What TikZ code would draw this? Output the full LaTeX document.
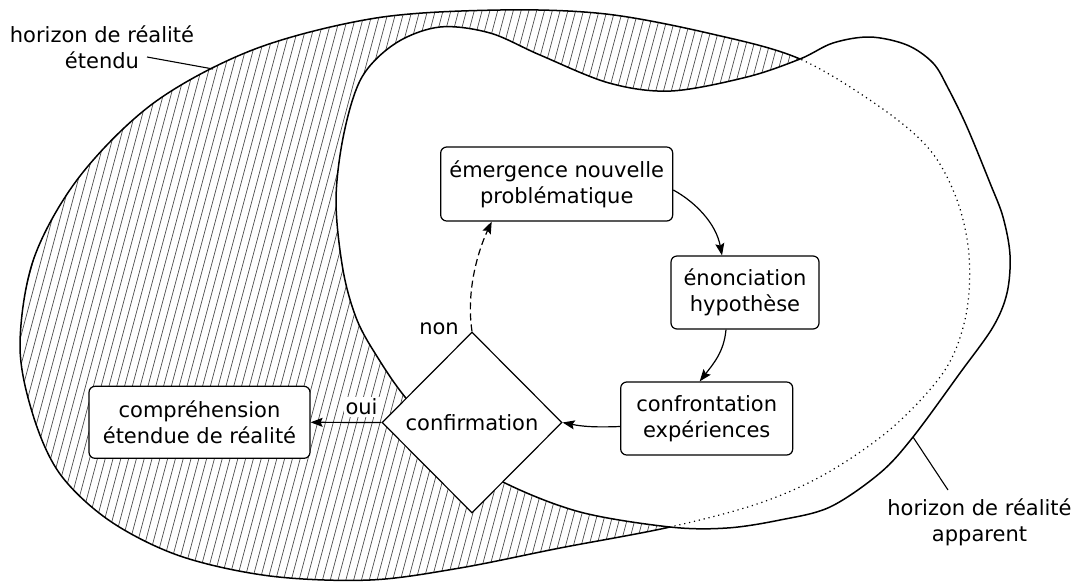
\documentclass[tikz,border=0pt]{standalone}
\usepackage{fontspec}
\setmainfont{DejaVu Sans}
\usetikzlibrary{shapes.geometric,arrows.meta}
\begin{document}
\begin{tikzpicture}[x=1pt,y=-1pt,
  every node/.style={font=\fontsize{21pt}{26pt}\selectfont},
  stepbox/.style={draw, rounded corners=6pt, line width=1.2pt, fill=white, align=center, inner sep=0pt},
  decisionbox/.style={draw, diamond, aspect=1, line width=1.2pt, fill=white, inner sep=0pt, minimum width=180pt, minimum height=181pt},
  conn/.style={line width=1.2pt, -{Stealth[length=12pt,width=9pt,inset=2pt]}},
  blob/.style={line width=1.5pt},
  hatchline/.style={draw=black!75, line width=0.65pt},
  leader/.style={line width=1.1pt}
]
\def\outerpath{plot[smooth cycle, tension=0.55] coordinates {(20,345) (34,258) (80,176) (155,102) (255,49) (376,18) (500,10) (606,14) (712,34) (800,59) (880,107) (930,150) (957,200) (969,255) (966,315) (945,370) (893,427) (827,473) (760,503) (670,527) (560,548) (460,568) (370,580) (270,576) (180,556) (110,521) (60,474) (33,415)}}
\def\innerpath{plot[smooth cycle, tension=0.55] coordinates {(800,59) (833,43) (870,37) (907,45) (933,63) (948,88) (967,127) (990,183) (1003,217) (1010,255) (1007,293) (993,327) (960,373) (913,437) (880,473) (830,507) (780,520) (727,528) (670,527) (580,512) (505,483) (450,448) (405,397) (378,358) (357,320) (343,270) (336,200) (344,133) (362,77) (396,43) (440,27) (490,33) (540,55) (609,83) (671,91) (747,77)}}
\useasboundingbox (0,0) rectangle (1078,582);
\fill[white] (0,0) rectangle (1078,582);
% hatched extended horizon
\begin{scope}
  \clip \outerpath;
  \foreach \i in {-22,...,126} \draw[hatchline] ({\i*7.8},590) -- ++(160,-600);
\end{scope}
\draw[blob] \outerpath;
% apparent horizon
\fill[white] \innerpath;
\begin{scope}
  \clip \innerpath;
  \draw[line width=1.2pt, dash pattern=on 1.2pt off 3.8pt] \outerpath;
\end{scope}
\draw[blob] \innerpath;
% labels and leaders
\node[align=center] (lblext) at (102,47) {horizon de réalité\\étendu};
\coordinate (le1) at (147,57);
\coordinate (le2) at (213,69);
\draw[leader] (le1) -- (le2);
\node[align=center] (lblapp) at (979.5,522) {horizon de réalité\\apparent};
\coordinate (la1) at (913,437);
\coordinate (la2) at (948,490);
\draw[leader] (la1) -- (la2);
% nodes
\node[stepbox, minimum width=232pt, minimum height=74pt] (emerg) at (556.7,184) {émergence nouvelle\\problématique};
\node[stepbox, minimum width=148pt, minimum height=73pt] (enon) at (745,292.5) {énonciation\\hypothèse};
\node[stepbox, minimum width=172pt, minimum height=73pt] (confr) at (706.7,418.5) {confrontation\\expériences};
\node[stepbox, minimum width=221pt, minimum height=72pt] (compr) at (199.5,422.3) {compréhension\\étendue de réalité};
\node[decisionbox] (conf) at (472,422.5) {confirmation};
\node[fill=white, inner sep=2pt] (ouilbl) at (361.5,407) {oui};
\node[inner sep=0pt] (nonlbl) at (439,329) {non};
% connectors
\draw[conn] ([yshift=-6pt]emerg.east) .. controls +(22,12) and +(-6,-32) .. ([xshift=-23pt]enon.north);
\draw[conn] ([xshift=-19pt]enon.south) .. controls +(-2,22) and +(14,-18) .. ([xshift=-7pt]confr.north);
\draw[conn] ([yshift=-8pt]confr.west) .. controls +(-25,1) and +(20,4) .. (conf.east);
\draw[conn] (conf.west) -- (compr.east);
\draw[conn, dash pattern=on 7pt off 4pt] (conf.north) .. controls +(-6,-40) and +(-14,30) .. ([xshift=-65pt]emerg.south);
\end{tikzpicture}
\end{document}
